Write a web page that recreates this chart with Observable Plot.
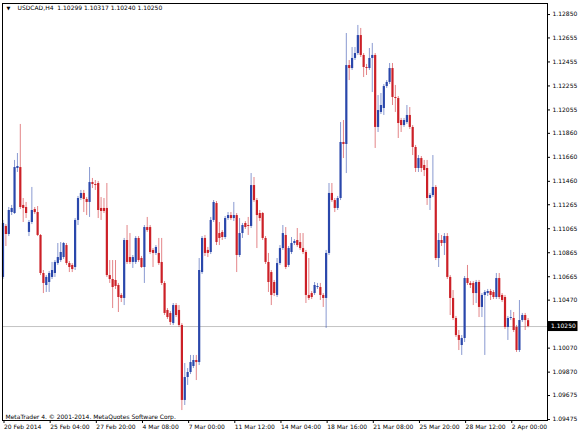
<!DOCTYPE html>
<html><head><meta charset="utf-8">
<script src="https://cdn.jsdelivr.net/npm/d3@7"></script>
<script src="https://cdn.jsdelivr.net/npm/@observablehq/plot@0.6"></script>
<style>body{margin:0;background:#fff}svg{display:block}</style>
</head><body><div id="chart"></div>
<script>
const symbolTitle = "USDCAD,H4";
const watermark = "MetaTrader 4. \u00A9 2001-2014. MetaQuotes Software Corp.";
const lastPrice = 1.10250;

const open = [
1.10659,1.11084,1.11017,1.11200,1.11192,1.11567,1.11575,1.11259,1.11242,1.11034,
1.11117,1.11225,1.11200,1.11009,1.10692,1.10592,1.10617,1.10659,1.10692,1.10775,
1.10800,1.10825,1.10925,1.10775,1.10759,1.10742,1.11134,1.11317,1.11359,1.11309,
1.11284,1.11450,1.11434,1.11442,1.11234,1.11234,1.11234,1.10675,1.10642,1.10634,
1.10592,1.10509,1.10484,1.10967,1.10825,1.10784,1.10784,1.10984,1.10817,1.10742,
1.11075,1.11075,1.10884,1.10859,1.10859,1.10784,1.10609,1.10384,1.10359,1.10275,
1.10425,1.10384,1.10259,1.09634,1.09825,1.09867,1.09917,1.09967,1.09950,1.10700,
1.10984,1.10884,1.10867,1.11134,1.11275,1.11025,1.11034,1.10992,1.11150,1.11175,
1.11150,1.11175,1.10842,1.11025,1.11109,1.11092,1.11084,1.11425,1.11300,1.11192,
1.11192,1.10984,1.10784,1.10700,1.10617,1.10509,1.10775,1.10900,1.11009,1.10759,
1.10867,1.10942,1.10967,1.10950,1.10900,1.10867,1.10509,1.10525,1.10525,1.10575,
1.10575,1.10509,1.10484,1.10859,1.11359,1.11300,1.11234,1.11317,1.11784,1.11767,
1.12425,1.12400,1.12484,1.12525,1.12675,1.12509,1.12409,1.12400,1.12484,1.12509,
1.11909,1.12034,1.12067,1.12250,1.12284,1.12400,1.12159,1.12150,1.11967,1.11925,
1.11950,1.12009,1.11909,1.11742,1.11567,1.11650,1.11592,1.11567,1.11317,1.11342,
1.11409,1.10817,1.10967,1.10942,1.11000,1.10659,1.10484,1.10317,1.10175,1.10092,
1.10150,1.10650,1.10609,1.10609,1.10525,1.10617,1.10409,1.10509,1.10525,1.10542,
1.10534,1.10492,1.10650,1.10509,1.10492,1.10242,1.10317,1.10317,1.10242,1.10050,
1.10300,1.10342,1.10299];

const high = [
1.11134,1.11100,1.11242,1.11259,1.11634,1.11692,1.11934,1.11317,1.11284,1.11134,
1.11409,1.11242,1.11250,1.11017,1.10717,1.10675,1.10709,1.10784,1.10800,1.10942,
1.10950,1.10950,1.10942,1.10792,1.10775,1.11150,1.11334,1.11384,1.11384,1.11325,
1.11575,1.11484,1.11467,1.11459,1.11325,1.11317,1.11442,1.10800,1.10800,1.10800,
1.10609,1.10525,1.10984,1.11092,1.11025,1.10842,1.11000,1.11000,1.10834,1.11092,
1.11159,1.11092,1.10900,1.10925,1.10984,1.10984,1.10625,1.10400,1.10375,1.10442,
1.10442,1.10425,1.10275,1.09942,1.09900,1.10009,1.10009,1.10009,1.10817,1.11000,
1.11009,1.10909,1.11159,1.11300,1.11292,1.11117,1.11050,1.11167,1.11200,1.11200,
1.11284,1.11192,1.11150,1.11109,1.11125,1.11159,1.11525,1.11492,1.11317,1.11217,
1.11200,1.11000,1.10859,1.10717,1.10634,1.10817,1.10925,1.11092,1.11075,1.10917,
1.10992,1.10975,1.11067,1.11025,1.11025,1.10884,1.10817,1.10542,1.10617,1.10609,
1.10609,1.10525,1.10884,1.11442,1.11442,1.11317,1.11334,1.11950,1.11967,1.12692,
1.12467,1.12575,1.12575,1.12759,1.12734,1.12525,1.12434,1.12567,1.12609,1.12525,
1.12175,1.12192,1.12267,1.12300,1.12442,1.12442,1.12259,1.12167,1.11984,1.11984,
1.12092,1.12075,1.11925,1.11759,1.11675,1.11667,1.11634,1.11634,1.11359,1.11675,
1.11425,1.11025,1.11009,1.11025,1.11025,1.10675,1.10550,1.10334,1.10217,1.10175,
1.10667,1.10759,1.10625,1.10625,1.10634,1.10634,1.10525,1.10550,1.10559,1.10559,
1.10550,1.10692,1.10692,1.10525,1.10509,1.10334,1.10384,1.10367,1.10259,1.10467,
1.10359,1.10359,1.10317];

const low = [
1.10642,1.10917,1.11000,1.11175,1.11184,1.11534,1.11225,1.11117,1.11150,1.11000,
1.11100,1.11184,1.11000,1.10675,1.10525,1.10534,1.10534,1.10642,1.10659,1.10759,
1.10784,1.10809,1.10759,1.10700,1.10700,1.10717,1.11092,1.11300,1.11200,1.11175,
1.11159,1.11400,1.11384,1.11150,1.11134,1.11192,1.10659,1.10609,1.10400,1.10559,
1.10367,1.10450,1.10425,1.10767,1.10767,1.10734,1.10767,1.10784,1.10734,1.10609,
1.11034,1.10850,1.10742,1.10842,1.10759,1.10592,1.10342,1.10309,1.10259,1.10259,
1.10325,1.10242,1.09550,1.09592,1.09759,1.09850,1.09900,1.09800,1.09925,1.10684,
1.10834,1.10825,1.10850,1.11117,1.10925,1.10925,1.10967,1.10975,1.11134,1.11134,
1.11125,1.10700,1.10825,1.10984,1.11059,1.11009,1.11067,1.11284,1.10900,1.11125,
1.10967,1.10767,1.10534,1.10425,1.10500,1.10492,1.10759,1.10884,1.10725,1.10742,
1.10850,1.10925,1.10909,1.10884,1.10850,1.10442,1.10467,1.10475,1.10509,1.10559,
1.10467,1.10409,1.10234,1.10842,1.11284,1.11200,1.11217,1.11300,1.11650,1.11525,
1.12300,1.12384,1.12467,1.12509,1.12492,1.12325,1.12342,1.12384,1.12200,1.11734,
1.11867,1.12017,1.12009,1.12234,1.12267,1.12092,1.12034,1.11817,1.11867,1.11909,
1.11934,1.11892,1.11675,1.11534,1.11534,1.11534,1.11500,1.11259,1.11217,1.11325,
1.10800,1.10742,1.10917,1.10842,1.10642,1.10342,1.10300,1.10159,1.10050,1.10009,
1.10117,1.10592,1.10567,1.10425,1.10442,1.10325,1.10325,1.10009,1.10500,1.10467,
1.10475,1.10475,1.10475,1.10450,1.10225,1.10134,1.10300,1.10200,1.10034,1.10034,
1.10284,1.10217,1.10240];

const close = [
1.11109,1.11017,1.11217,1.11234,1.11575,1.11584,1.11242,1.11234,1.11192,1.11117,
1.11217,1.11200,1.11009,1.10692,1.10609,1.10659,1.10692,1.10717,1.10784,1.10825,
1.10867,1.10942,1.10775,1.10742,1.10725,1.11134,1.11317,1.11359,1.11309,1.11284,
1.11450,1.11434,1.11425,1.11217,1.11209,1.11209,1.10675,1.10642,1.10575,1.10584,
1.10492,1.10484,1.10967,1.10784,1.10784,1.10825,1.10984,1.10800,1.10742,1.11075,
1.11050,1.10867,1.10859,1.10909,1.10775,1.10609,1.10359,1.10325,1.10284,1.10425,
1.10342,1.10259,1.09634,1.09825,1.09867,1.09950,1.09967,1.09950,1.10717,1.10984,
1.10859,1.10859,1.11134,1.11284,1.10950,1.10984,1.10992,1.11150,1.11175,1.11150,
1.11175,1.10842,1.11025,1.11092,1.11075,1.11084,1.11425,1.11300,1.11175,1.11150,
1.10984,1.10784,1.10617,1.10509,1.10525,1.10775,1.10900,1.11025,1.10742,1.10900,
1.10942,1.10959,1.10925,1.10900,1.10867,1.10509,1.10484,1.10492,1.10592,1.10584,
1.10509,1.10484,1.10859,1.11359,1.11300,1.11234,1.11317,1.11784,1.11767,1.12425,
1.12400,1.12484,1.12525,1.12675,1.12509,1.12409,1.12400,1.12484,1.12509,1.11909,
1.12050,1.12092,1.12250,1.12284,1.12400,1.12159,1.12150,1.11942,1.11925,1.11967,
1.12009,1.11909,1.11742,1.11567,1.11650,1.11567,1.11550,1.11317,1.11342,1.11409,
1.10817,1.10967,1.10942,1.11000,1.10659,1.10484,1.10317,1.10175,1.10134,1.10150,
1.10650,1.10609,1.10592,1.10525,1.10617,1.10409,1.10509,1.10534,1.10542,1.10509,
1.10492,1.10650,1.10492,1.10467,1.10242,1.10317,1.10325,1.10217,1.10050,1.10300,
1.10342,1.10300,1.10250];

const xTickBars = [0,16,32,48,64,80,96,112,128,144,160,176];
const xTickLabels = ["20 Feb 2014","25 Feb 04:00","27 Feb 20:00","4 Mar 08:00","7 Mar 00:00","11 Mar 12:00",
  "14 Mar 04:00","18 Mar 16:00","21 Mar 08:00","25 Mar 20:00","28 Mar 12:00","2 Apr 00:00"];
const yTickValues = [1.12850,1.12655,1.12455,1.12255,1.12055,1.11860,1.11660,1.11460,1.11265,1.11065,
  1.10865,1.10665,1.10470,1.10070,1.09870,1.09675,1.09475];

const n = open.length;
const bars = open.map((o, i) => ({i, o, h: high[i], l: low[i], c: close[i]}));
const up = bars.filter(d => d.c >= d.o);
const down = bars.filter(d => d.c < d.o);
const titleText = `${symbolTitle}  ${open[n-1].toFixed(5)} ${high[n-1].toFixed(5)} ${low[n-1].toFixed(5)} ${close[n-1].toFixed(5)}`;

const BLUE = "#2a47ab", RED = "#cc2027";
const FONT = "'DejaVu Sans', Verdana, sans-serif";
const labelOf = new Map(xTickBars.map((b, k) => [b, xTickLabels[k]]));

const chart = Plot.plot({
  width: 580, height: 436,
  marginLeft: 2, marginRight: 33, marginTop: 3, marginBottom: 16,
  style: {fontFamily: FONT, fontSize: "6px", background: "#fff", color: "#000"},
  x: {type: "linear", domain: [-0.173, 188.73]},
  y: {domain: [1.09467, 1.12942]},
  marks: [
    Plot.ruleY([lastPrice], {stroke: "#c4c4c4", strokeWidth: 1}),
    Plot.ruleX(up, {x: "i", y1: "l", y2: "h", stroke: BLUE, strokeOpacity: 0.55, strokeWidth: 1}),
    Plot.ruleX(down, {x: "i", y1: "l", y2: "h", stroke: RED, strokeOpacity: 0.55, strokeWidth: 1}),
    Plot.ruleX(up, {x: "i", y1: "o", y2: "c", stroke: BLUE, strokeWidth: 2.2}),
    Plot.ruleX(down, {x: "i", y1: "o", y2: "c", stroke: RED, strokeWidth: 2.2}),
    Plot.frame({stroke: "#000", strokeWidth: 1}),
    Plot.axisY({anchor: "right", ticks: yTickValues, tickFormat: d => d.toFixed(5), tickSize: 2, tickPadding: 3, label: null}),
    Plot.axisX({anchor: "bottom", ticks: xTickBars, tickFormat: d => labelOf.get(d), tickSize: 3, tickPadding: 1, textAnchor: "start", dx: 1, label: null}),
    Plot.text(["\u25BC"], {frameAnchor: "top-left", dx: 4, dy: 3, fontSize: 5, lineAnchor: "top", textAnchor: "start", fill: "#000"}),
    Plot.text([titleText], {frameAnchor: "top-left", dx: 15, dy: 2, fontSize: 6, lineAnchor: "top", textAnchor: "start", fill: "#000"}),
    Plot.text([watermark], {frameAnchor: "bottom-left", dx: 3, dy: -2, fontSize: 6, lineAnchor: "bottom", textAnchor: "start", fill: "#000"})
  ]
});

// current price tag on the price axis, positioned with the chart's y scale
const yy = chart.scale("y").apply(lastPrice);
const svg = d3.select(chart);
svg.append("rect").attr("x", 547.5).attr("y", yy - 5).attr("width", 30).attr("height", 10).attr("fill", "#000");
svg.append("text").attr("x", 551).attr("y", yy).attr("dy", "0.35em").attr("fill", "#fff")
  .attr("text-anchor", "start")
  .style("font-family", FONT).style("font-size", "6px").text(lastPrice.toFixed(5));

document.getElementById("chart").appendChild(chart);
</script>
</body></html>
